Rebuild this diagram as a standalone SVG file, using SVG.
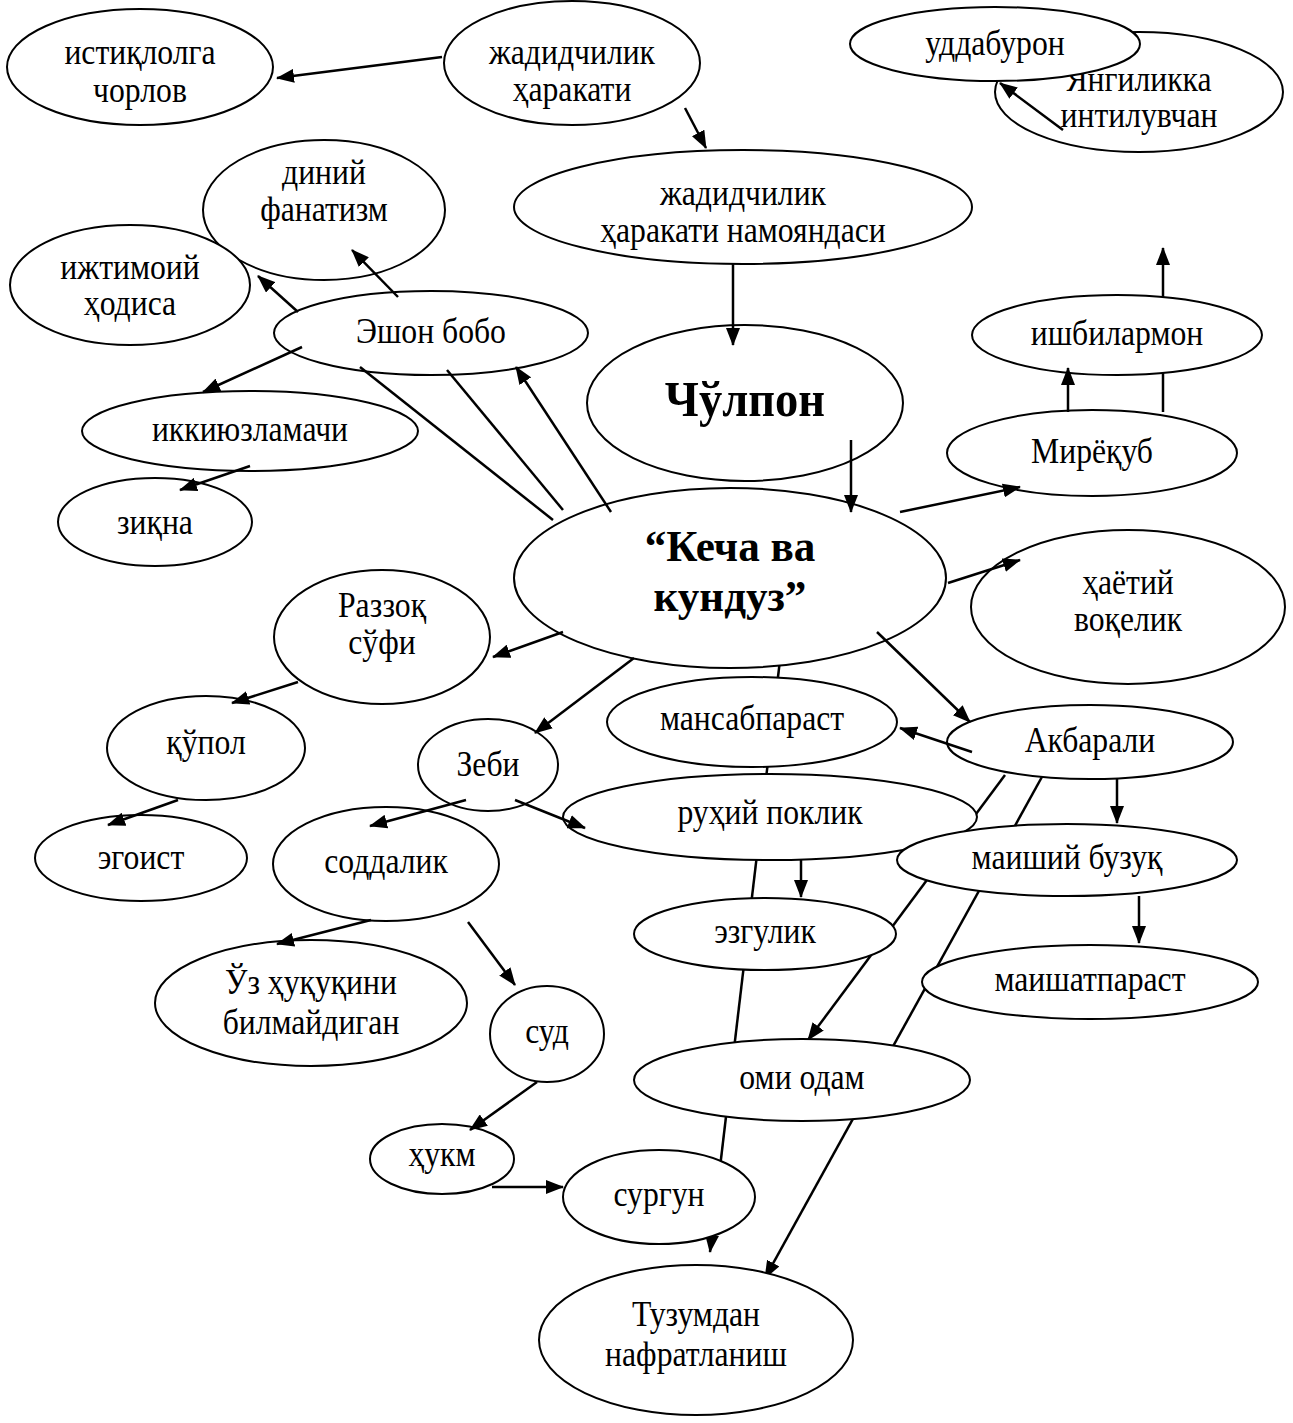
<svg xmlns="http://www.w3.org/2000/svg" width="1293" height="1423" viewBox="0 0 1293 1423">
<style>
.n ellipse{fill:#fff;stroke:#000;stroke-width:2}
text{font-family:"Liberation Serif","Times New Roman",serif;font-size:36px;text-anchor:middle;fill:#000;transform-box:fill-box;transform-origin:center;transform:scaleX(0.88)}
.b{font-weight:bold;font-size:50px;transform:scaleX(0.93)}
.k{font-weight:bold;font-size:44px;transform:scaleX(0.98)}
.c path{stroke:#000;stroke-width:2.5;fill:none}
.a{marker-end:url(#ah)}
</style>
<defs>
<marker id="ah" markerUnits="userSpaceOnUse" markerWidth="18" markerHeight="14" viewBox="0 0 18 14" refX="17" refY="7" orient="auto">
<path d="M0,0 L18,7 L0,14 z" fill="#000"/>
</marker>
</defs>
<rect width="1293" height="1423" fill="#fff"/>
<g id="connectors-behind" class="c">
<path class="a" d="M780,660 L710,1252"/>
<path class="a" d="M1005,775 L808,1040"/>
<path class="a" d="M1043,775 L765,1278"/>
<path class="a" d="M1163,412 L1163,248"/>
</g>
<g id="n1" class="n"><ellipse cx="140" cy="67" rx="133" ry="58"/><text x="140" y="64">истиқлолга</text><text x="140" y="102">чорлов</text></g>
<g id="n2" class="n"><ellipse cx="572" cy="63" rx="128" ry="62"/><text x="572" y="64">жадидчилик</text><text x="572" y="101">ҳаракати</text></g>
<g id="n3" class="n"><ellipse cx="743" cy="207" rx="229" ry="57"/><text x="743" y="205">жадидчилик</text><text x="743" y="242">ҳаракати намояндаси</text></g>
<g id="n4" class="n"><ellipse cx="745" cy="403" rx="158" ry="78"/><text class="b" x="745" y="416">Чўлпон</text></g>
<g id="n5" class="n"><ellipse cx="730" cy="578" rx="216" ry="90"/><text class="k" x="730" y="561">“Кеча ва</text><text class="k" x="730" y="611">кундуз”</text></g>
<g id="n7" class="n"><ellipse cx="1139" cy="92" rx="144" ry="60"/><text x="1139" y="91">Янгиликка</text><text x="1139" y="127">интилувчан</text></g>
<g id="n6" class="n"><ellipse cx="995" cy="44" rx="145" ry="37"/><text x="995" y="55">уддабурон</text></g>
<g id="n8" class="n"><ellipse cx="324" cy="210" rx="121" ry="70"/><text x="324" y="184">диний</text><text x="324" y="221">фанатизм</text></g>
<g id="n9" class="n"><ellipse cx="130" cy="285" rx="120" ry="60"/><text x="130" y="279">ижтимоий</text><text x="130" y="315">ҳодиса</text></g>
<g id="n10" class="n"><ellipse cx="431" cy="333" rx="157" ry="42"/><text x="431" y="343">Эшон бобо</text></g>
<g id="n11" class="n"><ellipse cx="250" cy="431" rx="168" ry="40"/><text x="250" y="441">иккиюзламачи</text></g>
<g id="n12" class="n"><ellipse cx="155" cy="522" rx="97" ry="44"/><text x="155" y="534">зиқна</text></g>
<g id="n13" class="n"><ellipse cx="1117" cy="335" rx="145" ry="40"/><text x="1117" y="345">ишбилармон</text></g>
<g id="n14" class="n"><ellipse cx="1092" cy="453" rx="145" ry="43"/><text x="1092" y="463">Мирёқуб</text></g>
<g id="n15" class="n"><ellipse cx="1128" cy="607" rx="157" ry="77"/><text x="1128" y="594">ҳаётий</text><text x="1128" y="631">воқелик</text></g>
<g id="n16" class="n"><ellipse cx="382" cy="637" rx="108" ry="67"/><text x="382" y="617">Раззоқ</text><text x="382" y="654">сўфи</text></g>
<g id="n17" class="n"><ellipse cx="206" cy="748" rx="99" ry="52"/><text x="206" y="754">қўпол</text></g>
<g id="n18" class="n"><ellipse cx="141" cy="858" rx="106" ry="43"/><text x="141" y="869">эгоист</text></g>
<g id="n19" class="n"><ellipse cx="488" cy="765" rx="70" ry="46"/><text x="488" y="776">Зеби</text></g>
<g id="n20" class="n"><ellipse cx="752" cy="722" rx="145" ry="45"/><text x="752" y="730">мансабпараст</text></g>
<g id="n21" class="n"><ellipse cx="770" cy="817" rx="207" ry="43"/><text x="770" y="824">руҳий поклик</text></g>
<g id="n22" class="n"><ellipse cx="1090" cy="742" rx="143" ry="37"/><text x="1090" y="752">Акбарали</text></g>
<g id="n23" class="n"><ellipse cx="1067" cy="860" rx="170" ry="36"/><text x="1067" y="869">маиший бузуқ</text></g>
<g id="n24" class="n"><ellipse cx="1090" cy="982" rx="168" ry="37"/><text x="1090" y="991">маишатпараст</text></g>
<g id="n25" class="n"><ellipse cx="765" cy="934" rx="131" ry="36"/><text x="765" y="943">эзгулик</text></g>
<g id="n26" class="n"><ellipse cx="386" cy="864" rx="113" ry="57"/><text x="386" y="873">соддалик</text></g>
<g id="n27" class="n"><ellipse cx="311" cy="1003" rx="156" ry="63"/><text x="311" y="994">Ўз ҳуқуқини</text><text x="311" y="1034">билмайдиган</text></g>
<g id="n28" class="n"><ellipse cx="547" cy="1034" rx="57" ry="48"/><text x="547" y="1043">суд</text></g>
<g id="n29" class="n"><ellipse cx="442" cy="1159" rx="72" ry="35"/><text x="442" y="1166">ҳукм</text></g>
<g id="n30" class="n"><ellipse cx="659" cy="1197" rx="96" ry="47"/><text x="659" y="1206">сургун</text></g>
<g id="n31" class="n"><ellipse cx="802" cy="1080" rx="168" ry="41"/><text x="802" y="1089">оми одам</text></g>
<g id="n32" class="n"><ellipse cx="696" cy="1340" rx="157" ry="75"/><text x="696" y="1326">Тузумдан</text><text x="696" y="1366">нафратланиш</text></g>
<g id="connectors" class="c">
<path class="a" d="M442,57 L277,78"/>
<path class="a" d="M685,108 L706,148"/>
<path class="a" d="M1063,130 L1000,83"/>
<path class="a" d="M733,263 L733,345"/>
<path class="a" d="M851,440 L851,512"/>
<path class="a" d="M398,297 L352,250"/>
<path class="a" d="M298,312 L258,276"/>
<path class="a" d="M302,347 L203,392"/>
<path class="a" d="M250,466 L180,490"/>
<path class="a" d="M611,512 L516,367"/>
<path d="M553,520 L360,367"/>
<path d="M563,510 L447,370"/>
<path class="a" d="M900,512 L1020,487"/>
<path class="a" d="M1068,412 L1068,368"/>
<path class="a" d="M948,583 L1020,560"/>
<path class="a" d="M563,632 L493,657"/>
<path class="a" d="M298,682 L232,703"/>
<path class="a" d="M178,800 L108,825"/>
<path class="a" d="M634,658 L535,733"/>
<path class="a" d="M877,632 L970,722"/>
<path class="a" d="M972,752 L900,728"/>
<path class="a" d="M1117,779 L1117,823"/>
<path class="a" d="M1139,896 L1139,943"/>
<path class="a" d="M515,800 L585,828"/>
<path class="a" d="M801,859 L801,897"/>
<path class="a" d="M466,800 L370,826"/>
<path class="a" d="M371,920 L277,944"/>
<path class="a" d="M468,922 L515,985"/>
<path class="a" d="M537,1082 L470,1130"/>
<path class="a" d="M492,1187 L563,1187"/>
</g>
</svg>
